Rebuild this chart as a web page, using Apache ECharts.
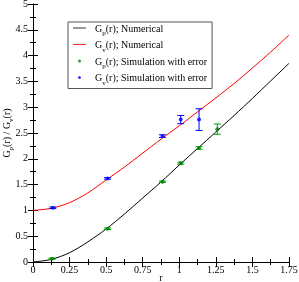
<!DOCTYPE html>
<html><head><meta charset="utf-8">
<script src="https://cdn.jsdelivr.net/npm/echarts@6/dist/echarts.min.js"></script>
<style>html,body{margin:0;padding:0;background:#fff}#c{width:299px;height:282px}</style>
</head><body><div id="c"></div><script>
// numerical curves
const rCurve = [0, 0.125, 0.25, 0.375, 0.5, 0.625, 0.75, 0.875, 1.0, 1.125, 1.25, 1.375, 1.5, 1.625, 1.75];
const gpNumerical = [0, 0.05, 0.18, 0.39, 0.64, 0.93, 1.24, 1.55, 1.88, 2.20, 2.52, 2.84, 3.17, 3.51, 3.85];
const gvNumerical = [1.0, 1.04, 1.15, 1.34, 1.59, 1.84, 2.11, 2.38, 2.64, 2.91, 3.18, 3.46, 3.76, 4.07, 4.40];
// simulations with error
const rSimP = [0.13, 0.51, 0.885, 1.01, 1.135, 1.26];
const gpSim = [0.065, 0.645, 1.555, 1.915, 2.21, 2.575];
const gpErr = [0.012, 0.015, 0.015, 0.02, 0.025, 0.1];
const rSimV = [0.135, 0.51, 0.885, 1.01, 1.135];
const gvSim = [1.05, 1.62, 2.44, 2.76, 2.76];
const gvErr = [0.015, 0.015, 0.025, 0.08, 0.21];
const legendNames = ['Gp numerical', 'Gv numerical', 'Gp simulation', 'Gv simulation'];
const legendLabels = {
  'Gp numerical': '{g|G}{s|p}{t|(r); Numerical}',
  'Gv numerical': '{g|G}{s|v}{t|(r); Numerical}',
  'Gp simulation': '{g|G}{s|p}{t|(r); Simulation with error}',
  'Gv simulation': '{g|G}{s|v}{t|(r); Simulation with error}'
};
const yLabel = '{a|G}{s|p}{a|(r) / G}{s|v}{a|(r)}';
const xLabel = 'r';

const FF = '"Liberation Serif", "DejaVu Serif", serif';
const zip = (a, b) => a.map((v, i) => [v, b[i]]);
const zip3 = (a, b, c) => a.map((v, i) => [v, b[i], c[i]]);
const LINE_ICON = 'path://M0,1 L13,1 L13,2 L0,2 Z';

function errRender(color) {
  return function (params, api) {
    const x = api.value(0), y = api.value(1), e = api.value(2);
    const t = api.coord([x, y + e]);
    const b = api.coord([x, y - e]);
    const w = 3.5;
    const st = { stroke: color, lineWidth: 1 };
    return { type: 'group', children: [
      { type: 'line', shape: { x1: t[0], y1: t[1], x2: b[0], y2: b[1] }, style: st },
      { type: 'line', shape: { x1: t[0] - w, y1: t[1], x2: t[0] + w, y2: t[1] }, style: st },
      { type: 'line', shape: { x1: b[0] - w, y1: b[1], x2: b[0] + w, y2: b[1] }, style: st }
    ]};
  };
}

const axisCommon = {
  axisLine: { show: true, lineStyle: { color: '#000', width: 1 } },
  axisTick: { show: true, inside: true, length: 5, lineStyle: { color: '#000' } },
  minorTick: { show: true, splitNumber: 2, length: 3, lineStyle: { color: '#000' } },
  splitLine: { show: false },
  axisLabel: { color: '#000', fontFamily: FF, fontSize: 10 }
};

const chart = echarts.init(document.getElementById('c'), null, { renderer: 'canvas' });
chart.setOption({
  animation: false,
  backgroundColor: '#fff',
  grid: { left: 33, right: 10, top: 4, bottom: 20, containLabel: false, outerBoundsMode: 'none' },
  xAxis: [
    Object.assign({}, axisCommon, { type: 'value', min: 0, max: 1.75, interval: 0.25, position: 'bottom',
      name: xLabel, nameLocation: 'middle', nameGap: 11, nameMoveOverlap: false,
      nameTextStyle: { color: '#000', fontFamily: FF, fontSize: 10 },
      axisLabel: { color: '#000', fontFamily: FF, fontSize: 10, margin: 3 } }),
    Object.assign({}, axisCommon, { type: 'value', min: 0, max: 1.75, interval: 0.25, position: 'top',
      axisLabel: { show: false } })
  ],
  yAxis: [
    Object.assign({}, axisCommon, { type: 'value', min: 0, max: 5, interval: 0.5, position: 'left',
      name: yLabel, nameLocation: 'middle', nameGap: 21, nameRotate: 90, nameMoveOverlap: false,
      nameTextStyle: { color: '#000', fontFamily: FF, fontSize: 10,
        rich: { a: { fontFamily: FF, fontSize: 10, color: '#000', lineHeight: 12, verticalAlign: 'bottom' },
                s: { fontFamily: FF, fontSize: 7, color: '#000', lineHeight: 8, verticalAlign: 'bottom', padding: [0, 0, -3, 0] } } },
      axisLabel: { color: '#000', fontFamily: FF, fontSize: 10, margin: 5 } }),
    Object.assign({}, axisCommon, { type: 'value', min: 0, max: 5, interval: 0.5, position: 'right',
      axisLabel: { show: false } })
  ],
  legend: {
    data: [
      { name: legendNames[0], icon: LINE_ICON, itemStyle: { color: '#333' } },
      { name: legendNames[1], icon: LINE_ICON, itemStyle: { color: '#ff3030' } },
      { name: legendNames[2], icon: 'circle' },
      { name: legendNames[3], icon: 'circle' }
    ],
    orient: 'vertical',
    left: 68, top: 22,
    padding: [2, 5, 2, 5],
    itemGap: 3.5,
    itemWidth: 13, itemHeight: 3,
    symbolKeepAspect: true,
    borderColor: '#555', borderWidth: 1, borderRadius: 0,
    backgroundColor: '#fff',
    formatter: n => legendLabels[n],
    textStyle: { color: '#000', fontFamily: FF, fontSize: 10,
      rich: {
        g: { fontFamily: FF, fontSize: 10, color: '#000', lineHeight: 12, verticalAlign: 'bottom', padding: [0, 0, 0, 4] },
        t: { fontFamily: FF, fontSize: 10, color: '#000', lineHeight: 12, verticalAlign: 'bottom' },
        s: { fontFamily: FF, fontSize: 7, color: '#000', lineHeight: 8, verticalAlign: 'bottom', padding: [0, 0, -3, 0] }
      } }
  },
  series: [
    { name: 'Gp numerical', type: 'line', data: zip(rCurve, gpNumerical), smooth: 0.3, symbol: 'none',
      lineStyle: { color: '#000', width: 1 }, itemStyle: { color: '#000' }, z: 2 },
    { name: 'Gv numerical', type: 'line', data: zip(rCurve, gvNumerical), smooth: 0.3, symbol: 'none',
      lineStyle: { color: '#ff0000', width: 1 }, itemStyle: { color: '#ff0000' }, z: 2 },
    { name: 'Gp error', type: 'custom', renderItem: errRender('#00a000'), data: zip3(rSimP, gpSim, gpErr), z: 3 },
    { name: 'Gv error', type: 'custom', renderItem: errRender('#0000ff'), data: zip3(rSimV, gvSim, gvErr), z: 3 },
    { name: 'Gp simulation', type: 'scatter', data: zip(rSimP, gpSim), symbol: 'circle', symbolSize: 4,
      itemStyle: { color: '#008000' }, z: 4 },
    { name: 'Gv simulation', type: 'scatter', data: zip(rSimV, gvSim), symbol: 'circle', symbolSize: 4,
      itemStyle: { color: '#0000ff' }, z: 4 }
  ]
});
</script></body></html>
